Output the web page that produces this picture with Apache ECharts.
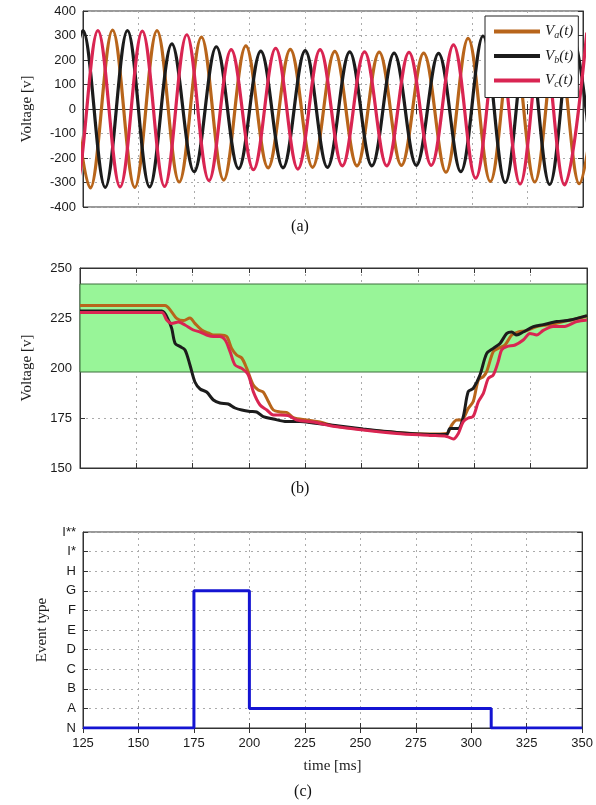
<!DOCTYPE html>
<html><head><meta charset="utf-8">
<script src="https://cdn.jsdelivr.net/npm/echarts@6/dist/echarts.min.js"></script>
<style>html,body{margin:0;padding:0;background:#fff}#c{width:596px;height:805px}</style>
</head><body><div id="c"></div>
<script>
// ---------- DATA ----------
const phaseNames = ['Va', 'Vb', 'Vc'];
const phaseSub = { Va: 'a', Vb: 'b', Vc: 'c' };
const timeTicks = [125, 150, 175, 200, 225, 250, 275, 300, 325, 350];
const eventTypes = ['N', 'A', 'B', 'C', 'D', 'E', 'F', 'G', 'H', 'I*', 'I**'];

// (a) instantaneous voltage: peak/trough times [ms] and values [V]
const vaT = [118.3,128.3,138.3,148.3,158.3,168.3,178.3,188.3,198.3,208.3,218.3,228.3,238.3,248.3,258.3,268.3,278.3,288.3,298.3,308.3,318.3,328.3,338.3,348.3,358.3];
const vaV = [322,-322,322,-320,320,-298,293,-290,258,-240,243,-238,235,-232,232,-230,228,-258,288,-296,300,-298,305,-305,306];
const vbT = [115,125,135,145,155,165,175,185,195,205,215,225,235,245,255,265,275,285,295,305,315,325,335,345,355];
const vbV = [-320,320,-320,320,-318,266,-256,254,-243,236,-240,238,-238,233,-232,228,-230,227,-256,298,-300,308,-308,312,-314];
const vcT = [111.7,121.7,131.7,141.7,151.7,161.7,171.7,181.7,191.7,201.7,211.7,221.7,231.7,241.7,251.7,261.7,271.7,281.7,291.7,301.7,311.7,321.7,331.7,341.7,351.7];
const vcV = [320,-320,320,-318,318,-316,303,-292,242,-248,248,-245,242,-232,233,-232,231,-230,262,-282,292,-306,308,-310,312];

// (b) RMS voltage [V]
const rmsAT = [125,162.7,165.7,167.9,170.8,173.8,176,179,181.9,184.2,187.1,190.1,192.3,194.5,196.8,199,201.9,204.1,206.3,208.6,210.8,213.8,216.7,219.7,225.6,231.5,238.2,250.7,265.6,280.3,287.7,290,292.2,294.4,297.3,299.5,301.8,304,305.5,308.4,310.6,313.6,316.6,319.5,323.2,327.7,333.6,339.5,345,350];
const rmsAV = [231.3,231.2,228,224.8,223.7,225,222.3,219,217.5,216.5,216.5,215.7,209.8,206.5,205,199.8,191.5,189,188,183.2,179,178,177.8,175.2,174,173,171,169.3,167.8,167,167.3,171.5,174,174,179.8,183.2,194,195.7,198.3,208.2,209.8,211.5,216.5,218,218.7,220.7,221.7,223.2,224.5,226];
const rmsBT = [125,161.3,164.2,165.7,167.2,169.4,171.6,173.8,176,178.3,181.2,184.2,187.1,190.8,193.8,196.8,200.4,203.4,206.3,210.8,216.7,222.6,228.5,238.2,250.7,265.6,280.3,287.7,289.2,292.9,295.1,297.3,299.5,302.5,305.5,308.4,311.4,314.4,316.6,318.8,321.7,326.2,330.6,336.6,342.5,350];
const rmsBV = [228.5,228.5,224,219.8,212.3,210.7,209,201.5,193,189.5,188,184,182.5,182,180,179,178.3,178,175.7,174.5,173.2,173.2,172.5,171.2,169.5,167.8,166.8,166.8,169.8,169.8,175.7,188.2,189.8,196.5,207.3,209.8,212.3,217.3,218,216.5,218,220.7,221.7,223.2,224,226.2];
const rmsCT = [125,161.3,163.5,165.7,168.6,171.6,175.3,178.3,181.2,184.2,187.1,189.4,191.6,193.8,196.8,199.7,201.9,204.9,207.9,210.8,213.8,217.4,221.2,228.5,238.2,250.7,265.6,280.3,287.7,290.7,292.9,295.1,297.3,299.5,301.8,304,306.2,308.4,310.6,312.1,314.4,318.1,321.7,324.7,327.7,330.6,335,339.5,345.4,350];
const rmsCV = [227.8,227.8,224,222.3,223,221.5,219,218,216.5,215.7,215.7,214,208.2,201.5,199.8,196.5,188.2,181.5,179,176.5,176.5,176.2,174,173,170.7,169,167.3,166.3,165.8,164.5,167.3,173.2,175,175.8,183.2,187.3,194.8,196.5,203.2,209,210.7,211.5,214,217.3,216.5,218.8,220.7,220.7,223.2,224];
const bandLow = 198, bandHigh = 242;

// (c) detected event type (step changes)
const eventT = [125, 175, 200, 309, 350];
const eventV = ['N', 'G', 'A', 'N', 'N'];

// ---------- STYLE ----------
const colors = { Va: '#b8651b', Vb: '#1c1c1c', Vc: '#d92552' };
const SERIF = '"Liberation Serif", "DejaVu Serif", serif';
const SANS = '"Liberation Sans", Arial, sans-serif';
const zip = (a, b) => a.map((t, i) => [t, b[i]]);

const dotted = { show: true, lineStyle: { color: '#ababab', width: 1, type: [2, 4] } };
const tickIn = { show: true, inside: true, length: 5, lineStyle: { color: '#333' } };
const axLine = { show: true, lineStyle: { color: '#333', width: 1 } };
const lbl = { color: '#1a1a1a', fontFamily: SANS, fontSize: 13 };

function xAxes(g, showLabels, name) {
  return [
    { gridIndex: g, type: 'value', min: 125, max: 350, interval: 25, position: 'bottom',
      axisLine: axLine, axisTick: tickIn, splitLine: dotted,
      axisLabel: Object.assign({ show: showLabels, margin: 9 }, lbl),
      name: name || '', nameLocation: 'middle', nameGap: 31,
      nameTextStyle: { fontFamily: SERIF, fontSize: 15, color: '#1a1a1a' } },
    { gridIndex: g, type: 'value', min: 125, max: 350, interval: 25, position: 'top',
      axisLine: axLine, axisTick: tickIn, splitLine: { show: false }, axisLabel: { show: false } }
  ];
}

const series = [];
// (a)
phaseNames.forEach((n, i) => {
  const T = [vaT, vbT, vcT][i], V = [vaV, vbV, vcV][i];
  series.push({ name: n, type: 'line', xAxisIndex: 0, yAxisIndex: 0, data: zip(T, V),
    smooth: 0.36, showSymbol: false, symbol: 'none', z: 3,
    lineStyle: { color: colors[n], width: 3.2 }, itemStyle: { color: colors[n] } });
});
// (b) band
series.push({ name: 'band', type: 'line', xAxisIndex: 2, yAxisIndex: 2, data: [], z: 1,
  markArea: { silent: true, itemStyle: { color: '#98f598', borderColor: '#3d6e3d', borderWidth: 1 },
    data: [[{ yAxis: bandLow }, { yAxis: bandHigh }]] } });
[[rmsAT, rmsAV, 'Va'], [rmsBT, rmsBV, 'Vb'], [rmsCT, rmsCV, 'Vc']].forEach(([T, V, n]) => {
  series.push({ name: n, type: 'line', xAxisIndex: 2, yAxisIndex: 2, data: zip(T, V),
    smooth: 0.3, showSymbol: false, symbol: 'none', z: 3,
    lineStyle: { color: colors[n], width: 3 }, itemStyle: { color: colors[n] } });
});
// (c)
series.push({ name: 'event', type: 'line', xAxisIndex: 4, yAxisIndex: 4,
  data: zip(eventT, eventV.map(e => eventTypes.indexOf(e))),
  step: 'end', showSymbol: false, symbol: 'none', z: 3,
  lineStyle: { color: '#1414d2', width: 3 } });

const evFmt = v => eventTypes[Math.round(v)] || '';
const option = {
  animation: false,
  backgroundColor: '#fff',
  grid: [
    { left: 83, top: 11, width: 500, height: 196, show: true, borderColor: '#333', borderWidth: 1 },
    { left: 80, top: 268, width: 507, height: 200, show: true, borderColor: '#333', borderWidth: 1 },
    { left: 83, top: 532, width: 500, height: 196, show: true, borderColor: '#333', borderWidth: 1 }
  ],
  xAxis: [].concat(xAxes(0, false), xAxes(1, false), xAxes(2, true, 'time [ms]')),
  yAxis: [
    { gridIndex: 0, type: 'value', min: -400, max: 400, interval: 100, axisLine: axLine, axisTick: tickIn,
      splitLine: dotted, axisLabel: Object.assign({ margin: 7 }, lbl),
      name: 'Voltage [v]', nameLocation: 'middle', nameGap: 48, nameRotate: 90,
      nameTextStyle: { fontFamily: SERIF, fontSize: 15, color: '#1a1a1a' } },
    { gridIndex: 0, type: 'value', min: -400, max: 400, interval: 100, position: 'right',
      axisLine: axLine, axisTick: tickIn, splitLine: { show: false }, axisLabel: { show: false } },
    { gridIndex: 1, type: 'value', min: 150, max: 250, interval: 25, axisLine: axLine, axisTick: tickIn,
      splitLine: dotted, axisLabel: Object.assign({ margin: 8 }, lbl),
      name: 'Voltage [v]', nameLocation: 'middle', nameGap: 45, nameRotate: 90,
      nameTextStyle: { fontFamily: SERIF, fontSize: 15, color: '#1a1a1a' } },
    { gridIndex: 1, type: 'value', min: 150, max: 250, interval: 25, position: 'right',
      axisLine: axLine, axisTick: tickIn, splitLine: { show: false }, axisLabel: { show: false } },
    { gridIndex: 2, type: 'value', min: 0, max: eventTypes.length - 1, interval: 1, axisLine: axLine,
      axisTick: tickIn, splitLine: dotted,
      axisLabel: Object.assign({ margin: 7, formatter: evFmt }, lbl),
      name: 'Event type', nameLocation: 'middle', nameGap: 33, nameRotate: 90,
      nameTextStyle: { fontFamily: SERIF, fontSize: 15, color: '#1a1a1a' } },
    { gridIndex: 2, type: 'value', min: 0, max: eventTypes.length - 1, interval: 1, position: 'right',
      axisLine: axLine, axisTick: tickIn, splitLine: { show: false }, axisLabel: { show: false } }
  ],
  legend: {
    data: phaseNames, orient: 'vertical', left: 485, top: 16,
    padding: [8, 5, 8, 9], itemWidth: 46, itemHeight: 4, itemGap: 8, icon: 'rect',
    backgroundColor: '#fff', borderColor: '#222', borderWidth: 1, borderRadius: 0,
    formatter: n => '{v|V}{s|' + phaseSub[n] + '}{p|(t)}',
    textStyle: {
      color: '#1a1a1a',
      rich: {
        v: { fontFamily: SERIF, fontStyle: 'italic', fontSize: 15, lineHeight: 18 },
        s: { fontFamily: SERIF, fontStyle: 'italic', fontSize: 10, lineHeight: 18, verticalAlign: 'bottom', padding: [5, 0, 0, 0] },
        p: { fontFamily: SERIF, fontStyle: 'italic', fontSize: 15, lineHeight: 18 }
      }
    }
  },
  graphic: [
    { type: 'text', x: 300, y: 227, style: { text: '(a)', font: '16px ' + SERIF, fill: '#111', textAlign: 'center', textVerticalAlign: 'middle', align: 'center', verticalAlign: 'middle' } },
    { type: 'text', x: 300, y: 489, style: { text: '(b)', font: '16px ' + SERIF, fill: '#111', textAlign: 'center', textVerticalAlign: 'middle', align: 'center', verticalAlign: 'middle' } },
    { type: 'text', x: 303, y: 792, style: { text: '(c)', font: '16px ' + SERIF, fill: '#111', textAlign: 'center', textVerticalAlign: 'middle', align: 'center', verticalAlign: 'middle' } }
  ],
  series: series
};
const chart = echarts.init(document.getElementById('c'), null, { renderer: 'canvas' });
chart.setOption(option);
</script>
</body></html>
